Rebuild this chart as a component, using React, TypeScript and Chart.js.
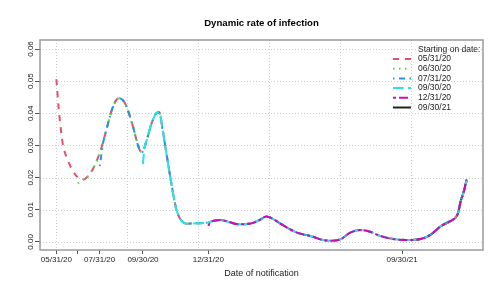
import React, { useEffect, useRef } from "react";
import { Chart, registerables } from "chart.js";

Chart.register(...registerables);

// Days since 05/31/20 for the base (05/31/20) curve
const baseDays = [
  0, 3, 5, 9, 16, 23, 30, 37, 44, 54,
  63, 70, 78, 84, 89, 94, 99, 108, 117, 121,
  127, 134, 141, 145, 150, 155, 162, 168, 172, 178,
  185, 198, 212, 222, 231, 242, 256, 275, 286, 296,
  305, 315, 327, 339, 351, 362, 372, 386, 400, 414,
  428, 442, 456, 475, 494, 513, 527, 541, 555, 562,
  566, 569, 574, 578,
];
const baseRate = [
  0.0506, 0.0420, 0.0375, 0.0305, 0.0255, 0.0222, 0.0201, 0.0193, 0.0203, 0.0238,
  0.0290, 0.0345, 0.0410, 0.0440, 0.0447, 0.0440, 0.0420, 0.0358, 0.0288, 0.0280,
  0.0315, 0.0368, 0.0400, 0.0403, 0.0345, 0.0276, 0.0182, 0.0110, 0.0082, 0.0062,
  0.0057, 0.0058, 0.0060, 0.0066, 0.0068, 0.0063, 0.0055, 0.0058, 0.0068, 0.0079,
  0.0072, 0.0058, 0.0042, 0.0029, 0.0022, 0.0016, 0.0008, 0.0004, 0.0008, 0.0029,
  0.0037, 0.0032, 0.0019, 0.0009, 0.0006, 0.0009, 0.0022, 0.0048, 0.0065, 0.0075,
  0.0090, 0.0120, 0.0156, 0.0190,
];

// Starting segments of later curves (before they join the common curve)
const headDays0630 = [30, 37];
const headRate0630 = [0.0182, 0.0193];
const headDays0731 = [61, 63, 66];
const headRate0731 = [0.0236, 0.0265, 0.0310];
const headDays0930 = [122, 124];
const headRate0930 = [0.0242, 0.0290];
const headDays1231 = [214, 217];
const headRate1231 = [0.0050, 0.0062];
const days0921 = [487, 494, 513, 527, 541, 555, 562, 566, 569, 574, 578];
const rate0921 = [0.0007, 0.0006, 0.0009, 0.0022, 0.0048, 0.0065, 0.0075, 0.0090, 0.0121, 0.0158, 0.0194];

const seriesNames = ["05/31/20", "06/30/20", "07/31/20", "09/30/20", "12/31/20", "09/30/21"];
const seriesColors = ["#DF536B", "#61D04F", "#2297E6", "#28E2E5", "#CD0BBC", "#222222"];
const seriesDash = [[6, 6], [1.5, 4.5], [1.5, 4.5, 6, 4.5], [10.5, 4.5], [3, 3, 9, 3], []];
const seriesOrder = [6, 5, 4, 3, 2, 7];

const tickDays = [0, 30, 61, 122, 214, 487];
const tickLabels = ["05/31/20", "", "07/31/20", "09/30/20", "12/31/20", "09/30/21"];
const gridDays = [0, 100, 200, 300, 400, 500];
const yTicks = [0, 0.01, 0.02, 0.03, 0.04, 0.05, 0.06];
const yTickLabels = ["0.00", "0.01", "0.02", "0.03", "0.04", "0.05", "0.06"];

const FONT = "'Liberation Sans', Arial, Helvetica, sans-serif";

function pts(ds: number[], vs: number[]) {
  return ds.map((d, i) => ({ x: d, y: vs[i] }));
}
function withTail(hd: number[], hv: number[]) {
  const last = hd[hd.length - 1];
  const tail = baseDays.map((d, i) => ({ x: d, y: baseRate[i] })).filter((p) => p.x > last);
  return pts(hd, hv).concat(tail);
}

const decorPlugin = {
  id: "rdecor",
  beforeDatasetsDraw(chart: any) {
    const { ctx, chartArea: a, scales } = chart;
    const x = scales.x;
    const y = scales.y;
    ctx.save();
    ctx.strokeStyle = "#d0d0d0";
    ctx.lineWidth = 1;
    ctx.setLineDash([1, 2]);
    for (const d of gridDays) {
      const px = Math.round(x.getPixelForValue(d)) + 0.5;
      ctx.beginPath();
      ctx.moveTo(px, a.top);
      ctx.lineTo(px, a.bottom);
      ctx.stroke();
    }
    for (const v of yTicks) {
      const py = Math.round(y.getPixelForValue(v)) + 0.5;
      ctx.beginPath();
      ctx.moveTo(a.left, py);
      ctx.lineTo(a.right, py);
      ctx.stroke();
    }
    ctx.restore();
  },
  afterDraw(chart: any) {
    const { ctx, chartArea: a, scales } = chart;
    const y = scales.y;
    ctx.save();
    // box
    ctx.strokeStyle = "#9a9a9a";
    ctx.lineWidth = 1.5;
    ctx.strokeRect(a.left, a.top, a.right - a.left, a.bottom - a.top);
    // y labels rotated
    ctx.fillStyle = "#222";
    ctx.font = `8px ${FONT}`;
    ctx.textAlign = "center";
    ctx.textBaseline = "middle";
    yTicks.forEach((v, i) => {
      const py = y.getPixelForValue(v);
      ctx.save();
      ctx.translate(30.5, py);
      ctx.rotate(-Math.PI / 2);
      ctx.fillText(yTickLabels[i], 0, 0);
      ctx.restore();
    });
    // title
    ctx.fillStyle = "#000";
    ctx.font = `bold 9.6px ${FONT}`;
    ctx.fillText("Dynamic rate of infection", (a.left + a.right) / 2, 23);
    // legend
    ctx.font = `8.5px ${FONT}`;
    ctx.textAlign = "left";
    ctx.fillStyle = "#222";
    ctx.fillText("Starting on date:", 418, 50);
    seriesNames.forEach((name, i) => {
      const ly = 59 + i * 9.7;
      ctx.save();
      ctx.strokeStyle = seriesColors[i];
      ctx.lineWidth = 2;
      ctx.setLineDash(seriesDash[i]);
      ctx.beginPath();
      ctx.moveTo(393, ly);
      ctx.lineTo(411, ly);
      ctx.stroke();
      ctx.restore();
      ctx.fillStyle = "#222";
      ctx.fillText(name, 418, ly);
    });
    ctx.restore();
  },
};

export default function App() {
  const ref = useRef<HTMLCanvasElement | null>(null);
  useEffect(() => {
    document.body.style.margin = "0";
    const canvas = ref.current;
    if (!canvas) return;
    const seriesData = [
      pts(baseDays, baseRate),
      withTail(headDays0630, headRate0630),
      withTail(headDays0731, headRate0731),
      withTail(headDays0930, headRate0930),
      withTail(headDays1231, headRate1231),
      pts(days0921, rate0921),
    ];
    const chart = new Chart(canvas, {
      type: "line",
      data: {
        datasets: seriesData.map((d, i) => ({
          label: seriesNames[i],
          data: d,
          borderColor: seriesColors[i],
          backgroundColor: seriesColors[i],
          borderDash: seriesDash[i],
          borderWidth: 2,
          pointRadius: 0,
          fill: false,
          cubicInterpolationMode: "monotone" as const,
          order: seriesOrder[i],
        })),
      },
      options: {
        animation: false,
        responsive: false,
        devicePixelRatio: 1,
        layout: { padding: { top: 40, right: 17, left: 0, bottom: 0 } },
        plugins: {
          legend: { display: false },
          title: { display: false },
          tooltip: { enabled: false },
        },
        scales: {
          x: {
            type: "linear",
            min: -23.1,
            max: 601.1,
            afterBuildTicks: (scale: any) => {
              scale.ticks = tickDays.map((v) => ({ value: v }));
            },
            afterFit: (scale: any) => {
              scale.height = 50;
            },
            ticks: {
              autoSkip: false,
              maxRotation: 0,
              minRotation: 0,
              padding: 1,
              color: "#222",
              font: { family: FONT, size: 8 },
              callback: (v: any) => {
                const i = tickDays.indexOf(Number(v));
                return i >= 0 ? tickLabels[i] : "";
              },
            },
            grid: {
              drawOnChartArea: false,
              drawTicks: true,
              tickLength: 4,
              tickColor: "#555",
              tickWidth: 1,
            },
            border: { display: false },
            title: {
              display: true,
              text: "Date of notification",
              color: "#222",
              font: { family: FONT, size: 9 },
              padding: { top: 0, bottom: 20.6 },
            },
          },
          y: {
            type: "linear",
            min: -0.0025,
            max: 0.0628,
            afterBuildTicks: (scale: any) => {
              scale.ticks = yTicks.map((v) => ({ value: v }));
            },
            afterFit: (scale: any) => {
              scale.width = 40;
            },
            ticks: {
              autoSkip: false,
              callback: () => "",
            },
            grid: {
              drawOnChartArea: false,
              drawTicks: true,
              tickLength: 5,
              tickColor: "#555",
              tickWidth: 1,
            },
            border: { display: false },
          },
        },
      },
      plugins: [decorPlugin],
    });
    return () => chart.destroy();
  }, []);
  return (
    <div style={{ width: 500, height: 300, background: "#fff" }}>
      <canvas ref={ref} width={500} height={300} style={{ display: "block" }} />
    </div>
  );
}
